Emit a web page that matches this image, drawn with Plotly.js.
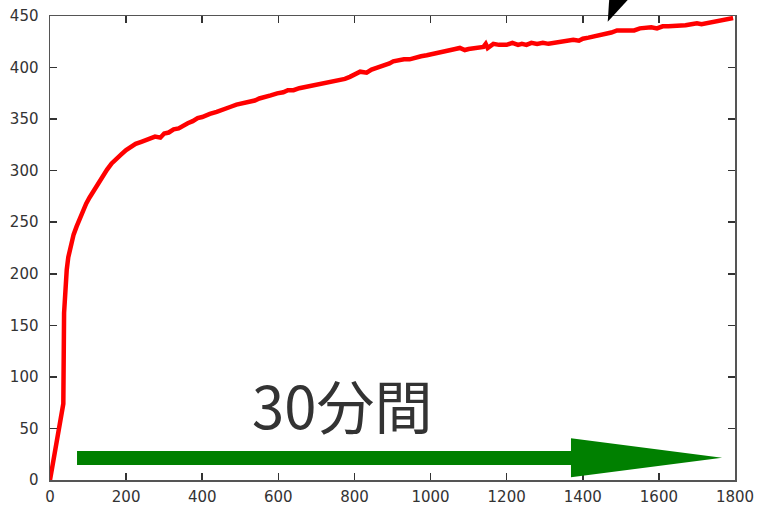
<!DOCTYPE html>
<html>
<head>
<meta charset="utf-8">
<script src="https://cdn.plot.ly/plotly-3.0.1.min.js"></script>
<style>html,body{margin:0;padding:0;background:#fff;}#chart{width:760px;height:508px;}</style>
</head>
<body>
<div id="chart"></div>
<script>
// elapsed time (s)
const timeSec = [0, 35, 37, 40, 44, 48, 55, 62, 70, 78, 86, 95, 104, 114, 125, 137, 150, 162, 175, 188, 200, 212, 225,
  240, 252, 263, 276, 290, 300, 312, 325, 338, 350, 362, 375, 388, 400, 410, 420, 438, 450, 460, 475, 490, 505, 525, 538, 550, 565, 580, 597, 613, 625,
  640, 655, 670, 685, 701, 715, 730, 745, 760, 775, 788, 800, 815, 832, 845, 860, 870, 880, 892, 902, 915, 930, 945, 960, 975,
  990, 1005, 1020, 1035, 1050, 1065, 1077, 1090, 1100, 1115, 1130, 1139, 1145, 1150, 1165,
  1180, 1200, 1215, 1230, 1240, 1252, 1265, 1280, 1295, 1310, 1325, 1340, 1355, 1375, 1390, 1400, 1415, 1430, 1445, 1463, 1475, 1490, 1505, 1520, 1535, 1550, 1565, 1580, 1595, 1610, 1625, 1638,
  1655, 1670, 1685, 1700, 1712, 1725, 1738, 1750, 1760, 1770, 1783, 1795];
// measured value
const values = [0, 74, 162, 192, 204, 216, 230, 238, 246, 254, 261, 268, 274, 280, 287, 294, 301, 307, 312, 316, 320, 323, 326,
  328, 330, 331, 333, 332, 336, 337, 340, 341, 344, 346, 348, 351, 352, 354, 355, 357, 359, 360, 362, 364, 365, 367, 368, 370, 371, 373, 375, 376, 378,
  378, 380, 381, 382, 383, 385, 386, 386, 388, 389, 391, 393, 396, 395, 398, 400, 401, 403, 404, 406, 407, 408, 408, 410, 411,
  412, 413, 415, 416, 417, 418, 419, 417, 418, 419, 419, 420, 423, 419, 423,
  422, 422, 424, 422, 423, 422, 424, 423, 424, 423, 424, 424, 425, 427, 426, 428, 429, 430, 431, 433, 434, 436, 436, 437, 436, 438, 439, 439, 438, 440, 440, 440,
  441, 441, 442, 443, 442, 443, 444, 445, 446, 446, 447, 448];
const xTicks = [0, 200, 400, 600, 800, 1000, 1200, 1400, 1600, 1800];
const yTicks = [0, 50, 100, 150, 200, 250, 300, 350, 400, 450];
const labelText = '30分間';

const axisCommon = {
  showgrid: false, zeroline: false, showline: true, mirror: 'ticks',
  linecolor: '#555', linewidth: 1.5, ticks: 'inside', ticklen: 7, tickwidth: 1.5, tickcolor: '#333',
  tickfont: {family: 'DejaVu Sans, sans-serif', size: 15, color: '#333'}
};

const trace = {
  x: timeSec, y: values, type: 'scatter', mode: 'lines',
  line: {color: '#ff0000', width: 4.5}, hoverinfo: 'skip'
};

const layout = {
  width: 760, height: 508,
  margin: {l: 50, r: 25, t: 16, b: 28},
  paper_bgcolor: '#fff', plot_bgcolor: '#fff',
  showlegend: false,
  xaxis: Object.assign({}, axisCommon, {range: [0, 1800], tickvals: xTicks, ticktext: xTicks.map(String), ticklabelstandoff: 2}),
  yaxis: Object.assign({}, axisCommon, {range: [0, 450], tickvals: yTicks, ticktext: yTicks.map(String), ticklabelstandoff: 7}),
  shapes: [
    {type: 'path', xref: 'x', yref: 'y', layer: 'above', line: {width: 0}, fillcolor: '#008000',
     path: 'M71,28.1 L1369,28.1 L1369,40.4 L1766,21.6 L1369,2.6 L1369,14.5 L71,14.5 Z'},
    {type: 'path', xref: 'paper', yref: 'paper', layer: 'above', line: {width: 0}, fillcolor: '#000',
     path: 'M0.8142,0.9877 L0.8170,1.05 L0.8530,1.05 Z'}
  ],
  annotations: [
    {x: 767, y: 74, xref: 'x', yref: 'y', text: labelText, showarrow: false,
     font: {family: 'Noto Sans CJK JP, sans-serif', size: 58, color: '#333'}}
  ]
};

Plotly.newPlot('chart', [trace], layout, {displayModeBar: false, staticPlot: true});
</script>
</body>
</html>
